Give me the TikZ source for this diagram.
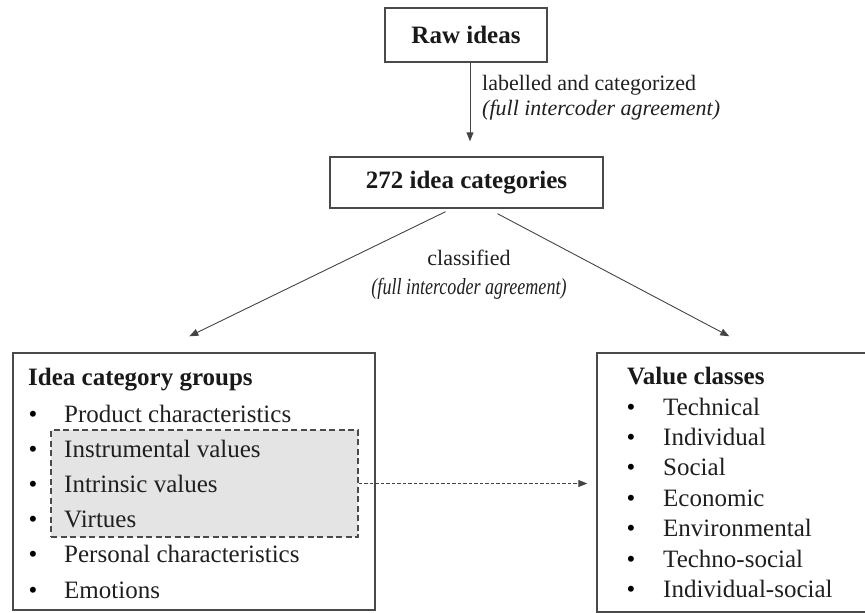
\documentclass[tikz,border=0pt]{standalone}
\usepackage{fontspec}
\usepackage{graphicx}
\setmainfont{Liberation Serif}
\usetikzlibrary{arrows.meta,calc}
\definecolor{boxgray}{HTML}{4A4A4A}
\definecolor{linegray}{HTML}{444444}
\definecolor{shade}{HTML}{E4E4E4}
\begin{document}
\begin{tikzpicture}[x=1pt,y=-1pt,
  box/.style={draw=boxgray, line width=1.4pt, rectangle, inner sep=0pt},
  title/.style={font=\fontsize{25}{30}\selectfont\bfseries, text=black!90},
  item/.style={font=\fontsize{25}{30}\selectfont, anchor=base west, inner sep=0pt, text=black!88},
  bul/.style={font=\fontsize{25}{30}\selectfont, anchor=base, inner sep=0pt},
  lab/.style={font=\fontsize{22}{26}\selectfont, inner sep=0pt, text=black!88},
  arr/.style={draw=linegray, line width=0.9pt, -{Triangle[length=9pt,width=7pt]}},
]
\useasboundingbox (0,0) rectangle (865,613);
\clip (0,0) rectangle (865,613);

% boxes
\node[box, minimum width=162, minimum height=54, title] (raw) at (466,35) {Raw ideas};
\node[box, minimum width=273, minimum height=51, title] (cat) at (466.5,182.5) {272 idea categories};
\node[box, minimum width=362, minimum height=257] (left) at (194,481.5) {};
\node[box, minimum width=283, minimum height=259] (right) at (738.5,482.5) {};
\node[draw=boxgray, fill=shade, dash pattern=on 6pt off 3.5pt, line width=1.3pt,
      minimum width=307, minimum height=107, inner sep=0pt] (dash) at (204.5,483.5) {};

% labels
\node[lab, anchor=base west] (l1) at (482,90) {labelled and categorized};
\node[lab, anchor=base west] (l2) at (482,115) {\itshape (full intercoder agreement)};
\node[lab, anchor=base] (l3) at (469,265) {classified};
\node[lab, anchor=base] (l4) at (469,294) {\scalebox{0.82}[1.05]{\itshape (full intercoder agreement)}};

% left box contents
\node[title, anchor=base west, inner sep=0pt] (lt) at (28,385) {Idea category groups};
\foreach \t [count=\i] in {Product characteristics, Instrumental values, Intrinsic values, Virtues, Personal characteristics, Emotions}{
  \node[bul] (lb\i) at (33,{422+35.2*(\i-1)}) {•};
  \node[item] (li\i) at (64,{422+35.2*(\i-1)}) {\t};
}

% right box contents
\node[title, anchor=base west, inner sep=0pt] (rt) at (627,384) {Value classes};
\foreach \t [count=\i] in {Technical, Individual, Social, Economic, Environmental, Techno-social, Individual-social}{
  \node[bul] (rb\i) at (631,{415+30.45*(\i-1)}) {•};
  \node[item] (ri\i) at (663,{415+30.45*(\i-1)}) {\t};
}

% connectors
\coordinate (r0) at ($(raw.south)+(4,0)$);
\draw[arr, shorten >=15pt] (r0) -- (r0 |- cat.north);
\coordinate (c1) at ($(cat.south)+(-21,3)$);
\coordinate (e1) at ($(left.north west)+(177,-16)$);
\draw[arr] (c1) -- (e1);
\coordinate (c2) at ($(cat.south)+(31,5)$);
\coordinate (e2) at ($(right.north west)+(133,-16)$);
\draw[arr] (c2) -- (e2);
\draw[arr, dash pattern=on 3.5pt off 2pt, shorten >=9pt] (dash.east) -- (dash.east -| right.west);
\end{tikzpicture}
\end{document}
